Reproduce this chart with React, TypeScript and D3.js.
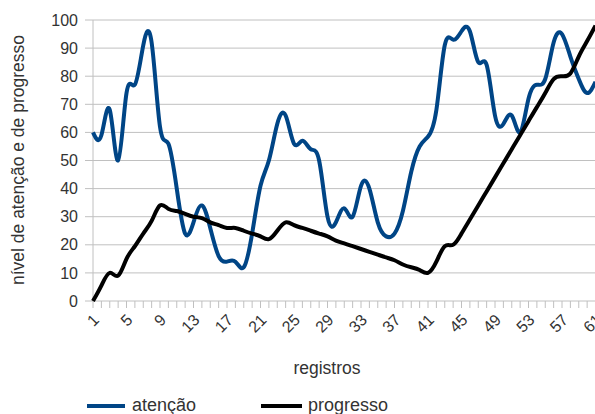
import React from "react";
import * as d3 from "d3";

const categories: number[] = [
  1, 2, 3, 4, 5, 6, 7, 8, 9, 10, 11, 12, 13, 14, 15, 16, 17, 18, 19, 20,
  21, 22, 23, 24, 25, 26, 27, 28, 29, 30, 31, 32, 33, 34, 35, 36, 37, 38, 39, 40,
  41, 42, 43, 44, 45, 46, 47, 48, 49, 50, 51, 52, 53, 54, 55, 56, 57, 58, 59, 60, 61,
];

const atencao: number[] = [
  60, 59, 68, 50, 74, 77, 91, 92, 62, 56, 40, 24, 28, 34, 26, 16, 14, 14, 12, 24,
  41, 50, 63, 66, 56, 57, 54, 50, 30, 28, 33, 30, 41, 40, 28, 23, 24, 32, 46, 55,
  58.5, 68, 91, 93, 96, 96, 85, 84, 66, 63, 66, 60, 72, 77, 79, 92, 95, 87, 79, 74, 78,
];

const progresso: number[] = [
  0, 5.5, 10, 9, 15, 19.5, 24, 28.5, 34, 32.8, 32, 31, 30, 29.5, 28, 27, 26, 26, 25, 24,
  23, 22, 25, 28, 27, 26, 25, 24, 23, 21.5, 20.5, 19.5, 18.5, 17.5, 16.5, 15.5, 14.5, 13, 12, 11,
  10, 14, 19.5, 20, 24, 29, 34, 39, 44, 49, 54, 59, 64, 69, 74, 79, 80, 81, 87, 92.5, 98,
];

const xTickLabels: number[] = [1, 5, 9, 13, 17, 21, 25, 29, 33, 37, 41, 45, 49, 53, 57, 61];
const yTicks: number[] = [0, 10, 20, 30, 40, 50, 60, 70, 80, 90, 100];

const W = 595;
const H = 414;
const left = 93;
const right = 595.5;
const top = 20;
const bottom = 301;
const FONT = "'Liberation Sans', Arial, sans-serif";
const TXT = "#333333";

export default function App() {
  const x = d3.scalePoint<number>().domain(categories).range([left, right]);
  const y = d3.scaleLinear().domain([0, 100]).range([bottom, top]);

  const line = (vals: number[]) =>
    d3
      .line<number>()
      .x((_, i) => x(categories[i]) as number)
      .y((d) => y(d))
      .curve(d3.curveNatural)(vals) || "";

  return (
    <svg
      width={W}
      height={H}
      style={{ position: "absolute", left: 0, top: 0, background: "#fff" }}
      fontFamily={FONT}
    >
      {/* gridlines */}
      {yTicks.map((t) => (
        <line key={"g" + t} x1={left - 8} x2={W} y1={y(t)} y2={y(t)} stroke="#c0c0c0" strokeWidth={1} />
      ))}
      {/* y axis */}
      <line x1={left} x2={left} y1={top} y2={bottom} stroke="#c0c0c0" strokeWidth={1} />
      {/* x axis ticks */}
      {categories.map((c) => (
        <line key={"t" + c} x1={x(c)} x2={x(c)} y1={bottom} y2={bottom + 7} stroke="#c0c0c0" strokeWidth={1} />
      ))}
      {/* y tick labels */}
      {yTicks.map((t) => (
        <text key={"yl" + t} x={78} y={y(t)} dy="0.35em" textAnchor="end" fontSize={16} fill={TXT}>
          {t}
        </text>
      ))}
      {/* x tick labels */}
      {xTickLabels.map((c) => (
        <text
          key={"xl" + c}
          transform={`translate(${(x(c) as number) + 3},${bottom + 16}) rotate(-45)`}
          textAnchor="end"
          dy="0.35em"
          fontSize={16}
          fill={TXT}
        >
          {c}
        </text>
      ))}
      {/* axis titles */}
      <text x={327} y={374} textAnchor="middle" fontSize={17.5} fill={TXT}>
        registros
      </text>
      <text transform={`translate(24,160) rotate(-90)`} textAnchor="middle" fontSize={17.5} fill={TXT}>
        nível de atenção e de progresso
      </text>
      {/* series */}
      <path d={line(atencao)} fill="none" stroke="#004586" strokeWidth={4} strokeLinejoin="round" />
      <path d={line(progresso)} fill="none" stroke="#000000" strokeWidth={4} strokeLinejoin="round" />
      {/* legend */}
      <line x1={87} x2={125} y1={406} y2={406} stroke="#004586" strokeWidth={4} />
      <text x={132} y={411} fontSize={18} fill={TXT}>
        atenção
      </text>
      <line x1={261} x2={302} y1={406} y2={406} stroke="#000000" strokeWidth={4} />
      <text x={308} y={411} fontSize={18} fill={TXT}>
        progresso
      </text>
    </svg>
  );
}
